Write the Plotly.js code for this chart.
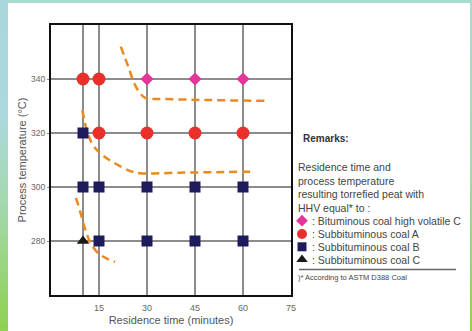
<!DOCTYPE html>
<html>
<head>
<meta charset="utf-8">
<script src="https://cdn.plot.ly/plotly-3.0.1.min.js"></script>
<style>
html,body{margin:0;padding:0;background:#fff;}
#wrap{position:relative;width:472px;height:331px;overflow:hidden;background:#fff;}
.strip{position:absolute;}
#plot{position:absolute;left:0;top:0;width:472px;height:331px;}
</style>
</head>
<body>
<div id="wrap">
  <div class="strip" style="left:0;top:0;width:472px;height:3px;background:#a9dcd0;"></div>
  <div class="strip" style="left:0;top:0;width:8px;height:331px;background:linear-gradient(to bottom,#a8d8da 0%,#abd9de 35%,#a3d9b0 60%,#8fd150 100%);"></div>
  <div class="strip" style="left:470px;top:0;width:2px;height:331px;background:linear-gradient(to bottom,#a9dcd0 0%,#a3dab0 50%,#8fd150 100%);"></div>
  <div id="plot"></div>
</div>
<script>
// ---- data ----
const diamondX = [30, 45, 60];
const diamondY = [340, 340, 340];
const circleX = [10, 15, 15, 30, 45, 60];
const circleY = [340, 340, 320, 320, 320, 320];
const squareX = [10, 10, 15, 30, 45, 60, 15, 30, 45, 60];
const squareY = [320, 300, 300, 300, 300, 300, 280, 280, 280, 280];
const triangleX = [10];
const triangleY = [280];

const curve1X = [21.8, 24.1, 26.2, 28.0, 29.6, 35, 45, 55, 66.7];
const curve1Y = [352, 344.7, 337.9, 334.5, 332.9, 332.6, 332.3, 332.1, 331.9];
const curve2X = [9.8, 11.2, 13.2, 16.3, 19.5, 24.6, 27.8, 40, 52, 63];
const curve2Y = [328.5, 321, 315.4, 311.6, 309.1, 306, 305.1, 305.3, 305.5, 305.7];
const curve3X = [7.8, 9.1, 10.6, 12.2, 14.8, 17.5, 20];
const curve3Y = [296, 291, 284.7, 279.7, 275.4, 273.5, 272.3];

const xTickVals = [10, 15, 30, 45, 60, 75];
const xTickText = ['', '15', '30', '45', '60', '75'];
const yTickVals = [280, 300, 320, 340];

const seriesNames = [
  ': Bituminous coal high volatile C',
  ': Subbituminous coal A',
  ': Subbituminous coal B',
  ': Subbituminous coal C'
];
const remarkLines = [
  'Residence time and',
  'process temperature',
  'resulting torrefied peat with',
  'HHV equal* to :'
];

// ---- styles ----
const FONT = 'Liberation Sans, Arial, sans-serif';
const cDiamond = '#e6359a', cCircle = '#e9302b', cSquare = '#1e1b5c', cTri = '#1a1a1a', cOrange = '#e98a1f';
const mDiamond = {symbol: 'diamond', size: 10, color: cDiamond};
const mCircle = {symbol: 'circle', size: 13, color: cCircle};
const mSquare = {symbol: 'square', size: 11, color: cSquare};
const mTri = {symbol: 'triangle-up', size: 11, color: cTri};

const dashLine = {color: cOrange, width: 2.5, dash: '8px,5px', shape: 'spline'};
const traces = [];
[[curve1X, curve1Y], [curve2X, curve2Y], [curve3X, curve3Y]].forEach(c => {
  traces.push({x: c[0], y: c[1], mode: 'lines', line: dashLine, hoverinfo: 'skip', showlegend: false});
});
traces.push({x: squareX, y: squareY, mode: 'markers', marker: mSquare, showlegend: false});
traces.push({x: circleX, y: circleY, mode: 'markers', marker: mCircle, showlegend: false});
traces.push({x: diamondX, y: diamondY, mode: 'markers', marker: mDiamond, showlegend: false});
traces.push({x: triangleX, y: triangleY, mode: 'markers', marker: mTri, showlegend: false});

// legend keys drawn on a pixel-like helper axis in the remarks panel
const keyX = 302;
const keyRows = [220.7, 234, 246.8, 259.5];
const keyMarkers = [
  {symbol: 'diamond', size: 9, color: cDiamond},
  {symbol: 'circle', size: 10, color: cCircle},
  {symbol: 'square', size: 9, color: cSquare},
  {symbol: 'triangle-up', size: 10, color: cTri}
];
keyMarkers.forEach((m, i) => {
  traces.push({x: [keyX], y: [keyRows[i]], xaxis: 'x2', yaxis: 'y2', mode: 'markers', marker: m, showlegend: false, hoverinfo: 'skip'});
});

const annotations = [];
annotations.push({xref: 'x2', yref: 'y2', x: 301, y: 138.5, xanchor: 'left', yanchor: 'middle', showarrow: false,
  text: '<b>Remarks:</b>', font: {family: FONT, size: 10, color: '#333'}});
const remarkY = [166.8, 180.5, 194, 207.5];
remarkLines.forEach((t, i) => {
  annotations.push({xref: 'x2', yref: 'y2', x: 295.5, y: remarkY[i], xanchor: 'left', yanchor: 'middle', showarrow: false,
    text: t, font: {family: FONT, size: 10.5, color: '#444'}});
});
seriesNames.forEach((t, i) => {
  annotations.push({xref: 'x2', yref: 'y2', x: 310, y: keyRows[i], xanchor: 'left', yanchor: 'middle', showarrow: false,
    text: t, font: {family: FONT, size: 10.5, color: '#444'}});
});
annotations.push({xref: 'x2', yref: 'y2', x: 295.5, y: 277, xanchor: 'left', yanchor: 'middle', showarrow: false,
  text: ')* According to ASTM D388 Coal', font: {family: FONT, size: 7.5, color: '#444'}});

const L = 51, R = 2, W = 472, H = 331;
const plotW = W - L - R;
const mainEnd = (291 - L) / plotW;

const layout = {
  width: W, height: H,
  margin: {l: L, r: R, t: 25, b: 36, pad: 0},
  paper_bgcolor: 'rgba(0,0,0,0)',
  plot_bgcolor: 'rgba(0,0,0,0)',
  showlegend: false,
  xaxis: {
    domain: [0, mainEnd], range: [0, 75], tickvals: xTickVals, ticktext: xTickText,
    showgrid: true, gridcolor: '#8c8c8c', gridwidth: 1.5, zeroline: false,
    showline: true, linecolor: '#111', linewidth: 2, mirror: true, ticks: '',
    ticklabelstandoff: 3,
    tickfont: {family: FONT, size: 9, color: '#666'},
    title: {text: 'Residence time (minutes)', font: {family: FONT, size: 11, color: '#555'}, standoff: 5},
    fixedrange: true
  },
  yaxis: {
    range: [260, 360], tickvals: yTickVals,
    showgrid: true, gridcolor: '#8c8c8c', gridwidth: 1.5, zeroline: false,
    showline: true, linecolor: '#111', linewidth: 2, mirror: true,
    ticks: 'outside', ticklen: 2, tickcolor: '#888', tickwidth: 1,
    tickfont: {family: FONT, size: 8.5, color: '#666'},
    title: {text: 'Process temperature (°C)', font: {family: FONT, size: 11, color: '#555'}, standoff: 2},
    fixedrange: true
  },
  xaxis2: {domain: [mainEnd, 1], range: [291, W - R], visible: false, anchor: 'y2', fixedrange: true},
  yaxis2: {domain: [0, 1], range: [295, 25], visible: false, anchor: 'x2', fixedrange: true},
  shapes: [
    {type: 'line', xref: 'x2', yref: 'y2', x0: 299, x1: 456, y0: 269.5, y1: 269.5, line: {color: '#666', width: 1.5}}
  ],
  annotations: annotations
};

Plotly.newPlot('plot', traces, layout, {displayModeBar: false, staticPlot: true});
</script>
</body>
</html>
